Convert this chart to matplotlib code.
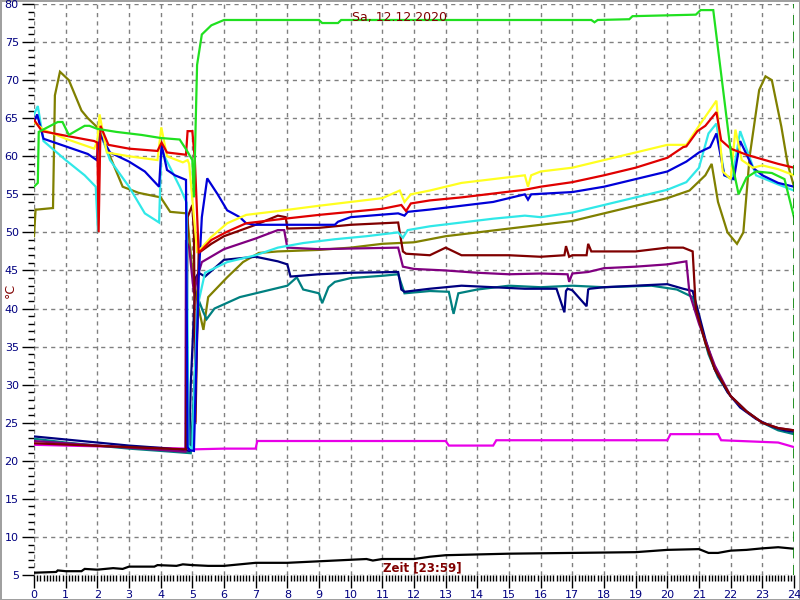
import matplotlib
matplotlib.use("Agg")
import matplotlib.pyplot as plt
from matplotlib.ticker import MultipleLocator

# hours of the day / temperatures in °C
green_x = [0, 0.12, 0.15, 0.75, 0.9, 1.1, 1.6, 1.75, 2.0, 2.6, 3.4, 4.0, 4.6, 4.82, 5.0, 5.05, 5.15, 5.3, 5.6, 6.0, 9.0, 9.1, 9.6, 9.7, 17.6, 17.7, 17.8, 18.8, 18.9, 20.9, 21.05, 21.45, 22.05, 22.25, 22.5, 22.8, 23.3, 23.7, 24.0]
green_y = [56, 56.5, 63.2, 64.5, 64.5, 62.8, 64, 64, 63.6, 63.2, 62.8, 62.4, 62.2, 60.8, 59.5, 54.6, 72, 76, 77.2, 77.9, 77.9, 77.5, 77.5, 77.9, 77.9, 77.6, 77.9, 78.0, 78.4, 78.6, 79.2, 79.2, 59, 55, 57.2, 58, 57.8, 57, 52]

yellow_x = [0, 0.3, 1.0, 1.9, 2.0, 2.07, 2.3, 3.0, 3.9, 4.02, 4.2, 4.7, 4.85, 4.9, 5.15, 5.3, 5.6, 6.1, 6.7, 7.7, 9.0, 10.0, 11.0, 11.55, 11.7, 11.9, 12.5, 13.5, 14.5, 15.5, 15.6, 15.7, 16.0, 17.0, 18.0, 19.0, 20.0, 20.6, 21.0, 21.55, 21.75, 22.0, 22.15, 22.35, 22.7, 23.0, 23.5, 24.0]
yellow_y = [64.5, 63.5, 62.3, 61, 62, 65.5, 60.5, 60, 59.5, 63.8, 60, 59.2, 59.5, 59, 47.5, 48, 49.4, 51.2, 52.3, 52.8, 53.5, 54, 54.5, 55.5, 54, 55, 55.5, 56.5, 57, 57.5, 56, 57.5, 58, 58.5, 59.5, 60.5, 61.5, 61.5, 64, 67.3, 58, 57, 63.5, 59.5, 58.5, 58.8, 58.3, 57.5]

red_x = [0, 0.25, 1.0, 1.9, 2.0, 2.04, 2.1, 2.35, 3.0, 3.9, 4.03, 4.2, 4.8, 4.85, 5.0, 5.08, 5.2, 5.6, 6.1, 6.7, 7.7, 9.0, 10.0, 11.0, 11.6, 11.75, 11.9, 12.5, 13.5, 14.5, 15.5, 16.0, 17.0, 18.0, 19.0, 20.0, 20.5, 20.6, 20.95, 21.2, 21.55, 21.7, 22.0, 22.5, 23.0, 23.5, 24.0]
red_y = [64.8, 63.3, 62.7, 62.0, 61.8, 50, 64, 61.5, 61, 60.7, 61.8, 60.5, 60.2, 63.3, 63.3, 59.5, 47.3, 49, 50.1, 51.2, 51.7, 52.3, 52.7, 53.1, 53.6, 52.8, 53.8, 54.2, 54.6, 55.1, 55.6, 56, 56.6, 57.5, 58.5, 59.8, 61.2, 61.3, 63.3, 64.0, 65.8, 62.1, 61, 60.2, 59.6, 59.0, 58.5]

cyan_x = [0, 0.12, 0.3, 1.0, 1.6, 1.95, 2.02, 2.08, 2.4, 3.0, 3.5, 3.95, 4.02, 4.3, 4.6, 4.82, 4.88, 5.0, 5.15, 5.4, 6.1, 7.0, 7.7, 8.5, 9.5, 10.5, 11.5, 11.65, 11.8, 12.5, 13.5, 14.5, 15.5, 16.0, 17.0, 18.0, 19.0, 20.0, 20.6, 21.0, 21.3, 21.55, 21.8, 22.05, 22.3, 22.8, 23.5, 24.0]
cyan_y = [65.5, 66.6, 62, 59.5, 57.5, 56, 50, 63.3, 59.5, 56, 52.5, 51.3, 60.8, 58.5, 56, 53.9, 22, 21.5, 40, 44.7, 46.1, 47, 48, 48.6, 49.1, 49.5, 50, 49.3, 50.3, 50.8, 51.3, 51.8, 52.2, 52.0, 52.6, 53.6, 54.6, 55.6, 56.6, 58.5, 63, 64.3, 57.5, 57, 63.3, 57.5, 56.3, 55.5]

blue_x = [0, 0.1, 0.3, 1.0, 1.7, 1.98, 2.07, 2.4, 3.0, 3.5, 3.95, 4.03, 4.2, 4.45, 4.8, 4.85, 4.9, 5.05, 5.2, 5.3, 5.47, 5.8, 6.1, 6.5, 6.7, 7.0, 9.5, 9.6, 10.0, 11.5, 11.7, 11.8, 12.5, 13.5, 14.5, 15.5, 15.6, 15.7, 17.0, 18.0, 19.0, 20.0, 20.6, 21.0, 21.35, 21.55, 21.8, 22.1, 22.3, 22.7, 23.0, 23.5, 24.0]
blue_y = [64.5, 65.5, 62.3, 61.3, 60.3, 59.5, 63, 60.5, 59.3, 58, 56, 61.5, 58.2, 57.5, 56.9, 21.8, 21.4, 21.3, 44, 52, 57.1, 55, 52.9, 52, 51.2, 51, 51, 51.4, 52, 52.5, 52.2, 52.7, 53, 53.5, 54, 55, 54.3, 55, 55.3, 56, 57, 58, 59.3, 60.5, 61.2, 63, 57.5, 57, 62, 58.5, 57.5, 56.5, 56]

olive_x = [0, 0.05, 0.1, 0.6, 0.66, 0.82, 1.1, 1.5, 1.7, 2.0, 2.4, 2.8, 3.3, 4.0, 4.3, 4.83, 5.0, 5.2, 5.35, 5.5, 6.1, 6.6, 7.1, 7.7, 9.0, 10.0, 11.0, 12.0, 13.0, 14.0, 15.0, 16.0, 17.0, 18.0, 19.0, 20.0, 20.7, 21.2, 21.4, 21.6, 21.9, 22.2, 22.4, 22.6, 22.9, 23.1, 23.3, 23.6, 23.8, 24.0]
olive_y = [49.5, 53, 53, 53.2, 68, 71.1, 70, 66, 65, 63.8, 60, 56, 55.2, 54.6, 52.7, 52.5, 45, 40, 37.2, 41.5, 44.1, 46.1, 47.3, 47.5, 47.7, 48, 48.5, 48.7, 49.5, 50, 50.5, 51, 51.5, 52.5, 53.5, 54.5, 55.5, 57.5, 59, 54, 50, 48.5, 50, 60, 68.7, 70.5, 70, 63.9, 59, 56]

maroon_x = [0, 4.8, 4.85, 5.0, 5.05, 5.1, 5.2, 5.6, 6.0, 7.0, 7.7, 7.95, 8.0, 9.0, 10.0, 11.5, 11.65, 11.75, 12.5, 13.0, 13.5, 15.0, 16.0, 16.75, 16.8, 16.9, 17.0, 17.45, 17.5, 17.6, 18.0, 19.0, 20.0, 20.5, 20.8, 20.9, 21.2, 21.5, 22.0, 22.5, 23.0, 23.5, 24.0]
maroon_y = [22.3, 21.5, 52, 53.6, 50, 25, 47.3, 48.5, 49.5, 51, 52.2, 52, 50.5, 50.6, 51, 51.3, 47.5, 47.2, 47, 48, 47, 47, 46.8, 47, 48.2, 46.8, 47, 47, 48.5, 47.5, 47.5, 47.5, 48, 48, 47.5, 40, 35.5, 32, 28.5, 26.5, 25, 24.3, 24]

purple_x = [0, 4.78, 4.8, 4.9, 5.05, 5.15, 5.3, 6.0, 7.0, 7.7, 7.9, 8.0, 9.0, 11.5, 11.65, 12.0, 13.0, 14.0, 15.0, 16.0, 16.85, 16.9, 17.0, 17.5, 18.0, 19.0, 20.0, 20.6, 20.7, 21.0, 21.5, 22.0, 22.5, 23.0, 23.5, 24.0]
purple_y = [22.6, 21.2, 49, 48, 42, 44, 46.1, 47.8, 49.2, 50.3, 50.3, 48, 47.8, 48, 45.5, 45.2, 45, 44.7, 44.5, 44.6, 44.5, 43.5, 44.6, 44.8, 45.3, 45.5, 45.8, 46.2, 42, 38, 32.5, 28.5, 26.5, 25, 24.3, 24]

navy_x = [0, 1.0, 2.0, 3.0, 4.0, 4.9, 4.95, 5.1, 5.2, 5.4, 6.0, 7.0, 7.7, 8.0, 8.1, 9.0, 10.0, 11.5, 11.6, 11.7, 12.5, 13.5, 14.5, 15.5, 16.5, 16.75, 16.8, 16.85, 17.0, 17.45, 17.5, 17.55, 18.0, 19.0, 20.0, 20.5, 20.8, 20.95, 21.2, 21.5, 21.9, 22.3, 22.8, 23.3, 23.7, 24.0]
navy_y = [23.2, 22.8, 22.4, 22.0, 21.7, 21.3, 30, 44, 44.7, 44.2, 46.4, 46.8, 46.2, 45.8, 44.2, 44.5, 44.7, 44.8, 42.5, 42.2, 42.6, 43, 42.8, 42.6, 42.6, 39.5, 42.3, 42.6, 42.4, 40.3, 42.5, 42.6, 42.8, 43, 43.2, 42.6, 42.3, 40, 36, 32, 29, 27, 25.5, 24.5, 24, 23.8]

teal_x = [0, 1.0, 2.0, 3.0, 4.0, 4.95, 5.0, 5.2, 5.35, 5.45, 5.7, 6.5, 7.0, 8.0, 8.3, 8.5, 9.0, 9.1, 9.3, 9.5, 10.0, 11.0, 11.5, 11.7, 12.5, 13.1, 13.25, 13.4, 14.0, 15.0, 16.0, 17.0, 18.0, 19.5, 20.3, 20.8, 21.0, 21.3, 21.6, 22.0, 22.5, 23.0, 23.5, 24.0]
teal_y = [22.9, 22.4, 22.0, 21.6, 21.3, 21.0, 25, 41.1, 39.5, 38.6, 40, 41.5, 42, 43, 44.1, 42.5, 42, 40.7, 42.8, 43.5, 44, 44.3, 44.5, 42, 42.3, 42.2, 39.3, 42, 42.5, 43, 42.8, 43, 42.8, 43, 42.5, 41.5, 38.5, 34, 31, 28.5, 26.5, 25, 24, 23.5]

magenta_x = [0, 2.0, 4.8, 5.0, 6.0, 7.0, 7.05, 13.0, 13.1, 14.5, 14.6, 20.0, 20.1, 21.6, 21.7, 23.5, 24.0]
magenta_y = [22.1, 21.9, 21.6, 21.5, 21.6, 21.6, 22.6, 22.6, 22.0, 22.0, 22.7, 22.7, 23.5, 23.5, 22.7, 22.4, 21.8]

black_x = [0, 0.7, 0.75, 1.0, 1.5, 1.6, 2.0, 2.5, 2.8, 3.0, 3.8, 3.9, 4.5, 4.7, 5.0, 5.5, 6.0, 7.0, 8.0, 9.0, 10.0, 10.5, 10.7, 11.0, 12.0, 12.5, 13.0, 14.0, 15.0, 17.0, 18.0, 19.0, 20.0, 21.0, 21.3, 21.6, 22.0, 22.5, 23.0, 23.5, 24.0]
black_y = [5.3, 5.4, 5.6, 5.5, 5.5, 5.8, 5.7, 5.9, 5.8, 6.1, 6.1, 6.3, 6.2, 6.4, 6.3, 6.2, 6.2, 6.6, 6.6, 6.8, 7.0, 7.1, 6.9, 7.1, 7.1, 7.4, 7.6, 7.7, 7.8, 7.9, 7.95, 8.0, 8.3, 8.4, 7.9, 7.9, 8.2, 8.3, 8.5, 8.65, 8.45]

hour_ticks = list(range(0, 25))
temp_ticks = list(range(5, 81, 5))

series = [
    (magenta_x, magenta_y, "#e800e8"),
    (olive_x, olive_y, "#808000"),
    (teal_x, teal_y, "#008080"),
    (navy_x, navy_y, "#000080"),
    (purple_x, purple_y, "#800080"),
    (maroon_x, maroon_y, "#800000"),
    (cyan_x, cyan_y, "#30e8e8"),
    (blue_x, blue_y, "#0000d8"),
    (yellow_x, yellow_y, "#ffff20"),
    (red_x, red_y, "#e00000"),
    (green_x, green_y, "#20e020"),
    (black_x, black_y, "#000000"),
]

fig = plt.figure(figsize=(8, 6), dpi=100)
fig.patch.set_facecolor("white")
fig.patch.set_edgecolor("#a0a0a0")
fig.patch.set_linewidth(2)
ax = fig.add_axes([34 / 800, 25 / 600, 760 / 800, 571 / 600])

for xs, ys, c in series:
    ax.plot(xs, ys, color=c, lw=1.6, solid_joinstyle="miter")

ax.set_xlim(0, 24)
ax.set_ylim(5, 80)
ax.set_xticks(hour_ticks)
ax.set_yticks(temp_ticks)
ax.xaxis.set_minor_locator(MultipleLocator(0.1))
ax.yaxis.set_minor_locator(MultipleLocator(1))
ax.tick_params(which="major", length=9, width=1, color="black", labelcolor="#000080", labelsize=8, pad=2)
ax.tick_params(which="minor", length=4, width=1, color="black")
ax.grid(True, which="major", color="#808080", ls=(0, (3, 3)), lw=1)
ax.set_axisbelow(True)
for s in ax.spines.values():
    s.set_visible(False)

ax.axvline(24, color="#008000", ls=(0, (6, 4)), lw=1.2)

ax.text(11.55, 78.2, "Sa, 12.12.2020", color="#800000", fontsize=9, ha="center", va="center")
ax.text(12.25, 5.9, "Zeit [23:59]", color="#800000", fontsize=8.5, fontweight="bold", ha="center", va="center")
fig.text(10 / 800, 1 - 290 / 600, "°C", color="#800000", fontsize=9, rotation=90, ha="center", va="center")

fig.savefig("out.png", dpi=100)
